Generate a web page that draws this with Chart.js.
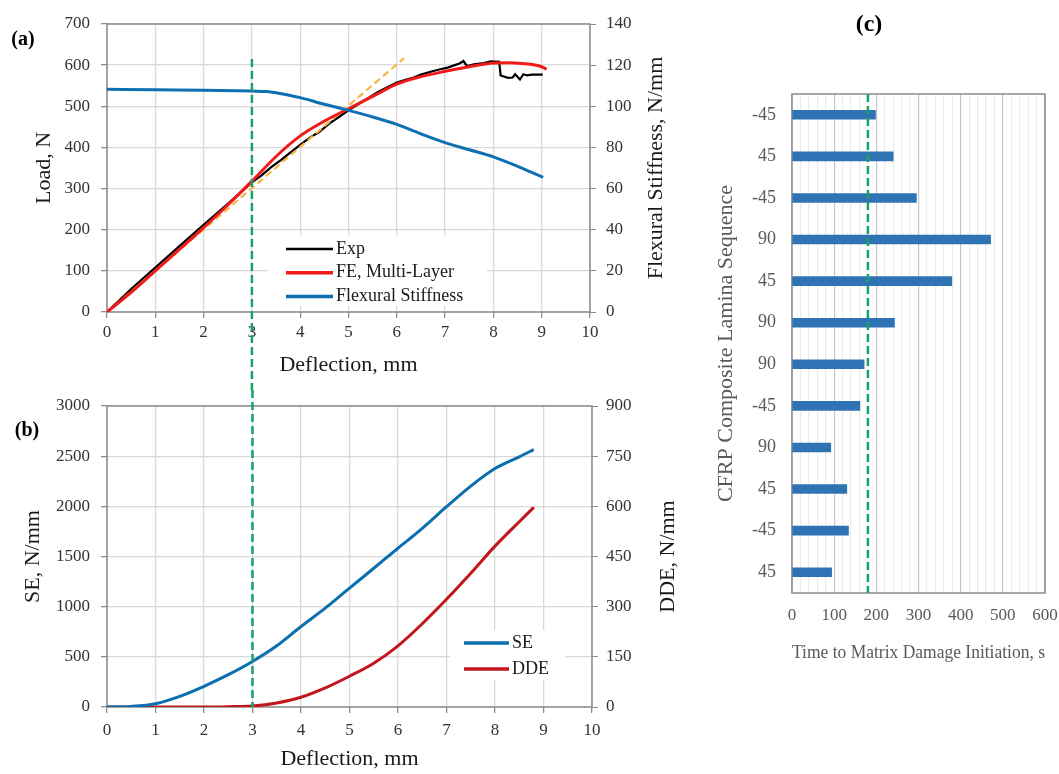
<!DOCTYPE html>
<html>
<head>
<meta charset="utf-8">
<title>Load, energy and damage initiation</title>
<script src="https://cdn.jsdelivr.net/npm/chart.js@4.4.0/dist/chart.umd.min.js"></script>
<style>
  html, body { margin: 0; padding: 0; background: #fff; }
  body { width: 1059px; height: 774px; position: relative; overflow: hidden; }
  canvas { position: absolute; }
  #chartA { left: 0; top: 0; }
  #chartB { left: 0; top: 390px; }
  #chartC { left: 700px; top: 0; }
</style>
</head>
<body>
<canvas id="chartA" width="700" height="390"></canvas>
<canvas id="chartB" width="700" height="384"></canvas>
<canvas id="chartC" width="359" height="774"></canvas>
<script>
// (a) load / flexural stiffness vs deflection
const expDefl = [0, 0.25, 0.5, 0.75, 1, 1.5, 2, 2.5, 3, 3.2, 3.4, 3.6, 3.8, 4, 4.2, 4.4, 4.6, 4.8, 5, 5.3, 5.6, 6, 6.2, 6.35, 6.5, 6.7, 6.9, 7.05, 7.2, 7.3, 7.38, 7.45, 7.6, 7.8, 7.95, 8.12, 8.15, 8.3, 8.4, 8.45, 8.55, 8.62, 8.7, 8.8, 9.02];
const expLoad = [0, 28, 56, 82, 108, 160, 212, 263, 315, 332, 352, 369, 388, 406, 424, 438, 458, 474, 490, 512, 534, 558, 565, 570, 577, 584, 590, 594, 600, 604, 610, 598, 602, 605, 609, 608, 575, 569, 570, 578, 565, 578, 575, 577, 577];
const feDefl = [0, 0.5, 1, 1.5, 2, 2.5, 3, 3.5, 4, 4.5, 5, 5.5, 6, 6.5, 7, 7.5, 8, 8.3, 8.6, 9, 9.1];
const feLoad = [0, 48, 100, 152, 205, 260, 318, 378, 428, 464, 494, 524, 554, 572, 585, 596, 605, 606, 604, 596, 590];
const stiffDefl = [0, 1, 2, 3, 3.3, 3.5, 3.75, 4, 4.5, 5, 5.5, 6, 6.5, 7, 7.5, 8, 8.5, 9.03];
const stiffValue = [108.3, 108, 107.8, 107.4, 107.2, 106.6, 105.5, 104.2, 101, 98, 94.8, 91.2, 86.6, 82.3, 78.9, 75.4, 70.8, 65.5];
const slopeDefl = [0, 6.15];
const slopeLoad = [0, 617];

// (b) strain energy and damage dissipation energy
const energyDefl = [0, 0.5, 1, 1.5, 2, 2.5, 3, 3.5, 4, 4.5, 5, 5.5, 6, 6.5, 7, 7.5, 8, 8.5, 8.8];
const seValues = [0, 6, 33, 106, 206, 322, 454, 610, 802, 985, 1184, 1383, 1582, 1781, 1996, 2202, 2377, 2493, 2566];
const ddeValues = [0, 0, 0, 0, 0, 1, 3, 12, 29, 57, 92, 131, 183, 249, 322, 400, 481, 554, 597];

// (c) time to matrix damage initiation per lamina
const laminaLabels = ["-45", "45", "-45", "90", "45", "90", "90", "-45", "90", "45", "-45", "45"];
const damageTime = [198, 240, 295, 471, 379, 243, 171, 161, 92, 130, 134, 94];

const markerDefl = 3;
const markerTime = 180;

const serif = "'Liberation Serif', 'Times New Roman', serif";
Chart.defaults.font.family = serif;
Chart.defaults.color = "#333";

const pts = (xs, ys) => xs.map((x, i) => ({ x: x, y: ys[i] }));

// plot box around the chart area
const frame = {
  id: "frame",
  beforeDatasetsDraw(chart, args, opts) {
    const { ctx, chartArea: a } = chart;
    ctx.save();
    ctx.strokeStyle = opts.color || "#8c8c8c";
    ctx.lineWidth = 1.5;
    ctx.strokeRect(a.left, a.top, a.right - a.left, a.bottom - a.top);
    ctx.restore();
  }
};

// legend drawn inside the plot, on a white box
const boxLegend = {
  id: "boxLegend",
  beforeDatasetsDraw(chart, args, opts) {
    const ctx = chart.ctx;
    ctx.save();
    ctx.fillStyle = "#fff";
    ctx.fillRect(opts.box[0], opts.box[1], opts.box[2], opts.box[3]);
    ctx.font = "18px " + serif;
    ctx.textBaseline = "middle";
    opts.items.forEach((idx, row) => {
      const ds = chart.data.datasets[idx];
      const y = opts.y + row * opts.gap;
      ctx.strokeStyle = ds.borderColor;
      ctx.lineWidth = ds.borderWidth + 0.5;
      ctx.beginPath();
      ctx.moveTo(opts.x, y);
      ctx.lineTo(opts.x + opts.len, y);
      ctx.stroke();
      ctx.fillStyle = "#1a1a1a";
      ctx.fillText(ds.label, opts.x + opts.len + 3, y);
    });
    ctx.restore();
  }
};

// green dashed reference line
const marker = {
  id: "marker",
  afterDatasetsDraw(chart, args, opts) {
    const { ctx, chartArea, scales } = chart;
    const x = scales.x.getPixelForValue(opts.value);
    let top = chartArea.top;
    let bottom = chartArea.bottom;
    if (opts.from !== undefined) top = scales.y.getPixelForValue(opts.from);
    if (opts.fromEdge) top = 0;
    if (opts.toEdge) bottom = chart.height;
    ctx.save();
    ctx.strokeStyle = "#16a463";
    ctx.lineWidth = 2.5;
    ctx.setLineDash([8, 4]);
    ctx.beginPath();
    ctx.moveTo(x, top);
    ctx.lineTo(x, bottom);
    ctx.stroke();
    ctx.restore();
  }
};

// right axis title, read bottom to top like the left one
const sideTitle = {
  id: "sideTitle",
  afterDraw(chart, args, opts) {
    const { ctx, chartArea } = chart;
    const title = chart.scales.y1.options.title;
    ctx.save();
    ctx.translate(opts.x, (chartArea.top + chartArea.bottom) / 2);
    ctx.rotate(-Math.PI / 2);
    ctx.font = "22px " + serif;
    ctx.fillStyle = "#1a1a1a";
    ctx.textAlign = "center";
    ctx.textBaseline = "middle";
    ctx.fillText(title.text, 0, 0);
    ctx.restore();
  }
};

// (a) (b) (c) tags
const panelTag = {
  id: "panelTag",
  afterDraw(chart, args, opts) {
    const ctx = chart.ctx;
    ctx.save();
    ctx.font = "bold " + opts.size + "px " + serif;
    ctx.fillStyle = "#000";
    ctx.textAlign = "center";
    ctx.textBaseline = "middle";
    ctx.fillText(opts.text, opts.x, opts.y);
    ctx.restore();
  }
};

function fixSize(w, h) {
  return (s) => {
    if (w !== null) s.width = w;
    if (h !== null) s.height = h;
    s.paddingLeft = 0;
    s.paddingRight = 0;
    s.paddingTop = 0;
    s.paddingBottom = 0;
  };
}

const tickFont = { size: 17 };
const titleFont = { size: 22 };
const gridStyle = { color: "#d9d9d9", lineWidth: 1.3, tickLength: 6, tickColor: "#8c8c8c" };
const plain = (v) => String(v);

function lineAxes(cfg) {
  return {
    x: {
      type: "linear", min: 0, max: 10,
      ticks: { stepSize: 1, padding: cfg.xPad, font: tickFont, color: "#333", callback: plain },
      grid: gridStyle,
      border: { display: false },
      title: { display: true, text: "Deflection, mm", font: titleFont, color: "#1a1a1a", padding: { top: 0, bottom: cfg.xTitle } },
      afterFit: fixSize(null, cfg.xHeight)
    },
    y: {
      position: "left", min: 0, max: cfg.yMax,
      ticks: { stepSize: cfg.yStep, padding: 11, font: tickFont, color: "#333", callback: plain },
      grid: gridStyle,
      border: { display: false },
      title: { display: true, text: cfg.yTitle, font: titleFont, color: "#1a1a1a", padding: { top: cfg.yTitlePad, bottom: 0 } },
      afterFit: fixSize(107, null)
    },
    y1: {
      position: "right", min: 0, max: cfg.y1Max,
      ticks: { stepSize: cfg.y1Step, padding: cfg.y1Pad, font: tickFont, color: "#333", callback: plain },
      grid: { drawOnChartArea: false, tickLength: 6, tickColor: "#8c8c8c" },
      border: { display: false },
      title: { display: false, text: cfg.y1Title },
      afterFit: fixSize(cfg.y1Width, null)
    }
  };
}

new Chart(document.getElementById("chartA"), {
  type: "line",
  data: {
    datasets: [
      { label: "Exp", data: pts(expDefl, expLoad), borderColor: "#000000", borderWidth: 2.2, pointRadius: 0, tension: 0, yAxisID: "y", order: 3 },
      { label: "FE, Multi-Layer", data: pts(feDefl, feLoad), borderColor: "#f01a1a", borderWidth: 3, pointRadius: 0, cubicInterpolationMode: "monotone", yAxisID: "y", order: 1 },
      { label: "Flexural Stiffness", data: pts(stiffDefl, stiffValue), borderColor: "#0e70b3", borderWidth: 3, pointRadius: 0, cubicInterpolationMode: "monotone", yAxisID: "y1", order: 0 },
      { label: "", data: pts(slopeDefl, slopeLoad), borderColor: "#f5b540", borderWidth: 2.2, borderDash: [7, 4], pointRadius: 0, yAxisID: "y", order: 2 }
    ]
  },
  options: {
    responsive: false,
    animation: false,
    devicePixelRatio: 1,
    layout: { padding: { top: 24, right: 0, bottom: 0, left: 0 } },
    scales: lineAxes({
      xPad: 4, xTitle: 12, xHeight: 78,
      yMax: 700, yStep: 100, yTitle: "Load, N", yTitlePad: 31,
      y1Max: 140, y1Step: 20, y1Pad: 10, y1Width: 110, y1Title: "Flexural Stiffness, N/mm"
    }),
    plugins: {
      legend: { display: false },
      tooltip: { enabled: false },
      boxLegend: { box: [268, 236, 219, 70], x: 286, y: 249, gap: 23.7, len: 47, items: [0, 1, 2] },
      marker: { value: markerDefl, from: 615, toEdge: true },
      sideTitle: { x: 656 },
      panelTag: { text: "(a)", x: 23, y: 40, size: 20 }
    }
  },
  plugins: [frame, boxLegend, marker, sideTitle, panelTag]
});

new Chart(document.getElementById("chartB"), {
  type: "line",
  data: {
    datasets: [
      { label: "SE", data: pts(energyDefl, seValues), borderColor: "#0a6fae", borderWidth: 3, pointRadius: 0, cubicInterpolationMode: "monotone", yAxisID: "y" },
      { label: "DDE", data: pts(energyDefl, ddeValues), borderColor: "#c0161c", borderWidth: 3, pointRadius: 0, cubicInterpolationMode: "monotone", yAxisID: "y1" }
    ]
  },
  options: {
    responsive: false,
    animation: false,
    devicePixelRatio: 1,
    layout: { padding: { top: 16, right: 0, bottom: 0, left: 0 } },
    scales: lineAxes({
      xPad: 7, xTitle: 2, xHeight: 67,
      yMax: 3000, yStep: 500, yTitle: "SE, N/mm", yTitlePad: 20,
      y1Max: 900, y1Step: 150, y1Pad: 8, y1Width: 108, y1Title: "DDE, N/mm"
    }),
    plugins: {
      legend: { display: false },
      tooltip: { enabled: false },
      boxLegend: { box: [450, 240, 115, 50], x: 464, y: 253, gap: 26, len: 45, items: [0, 1] },
      marker: { value: markerDefl, fromEdge: true },
      sideTitle: { x: 668 },
      panelTag: { text: "(b)", x: 27, y: 41, size: 20 }
    }
  },
  plugins: [frame, boxLegend, marker, sideTitle, panelTag]
});

new Chart(document.getElementById("chartC"), {
  type: "bar",
  data: {
    labels: laminaLabels,
    datasets: [{ data: damageTime, backgroundColor: "#2e74b5", barThickness: 9 }]
  },
  options: {
    indexAxis: "y",
    responsive: false,
    animation: false,
    devicePixelRatio: 1,
    layout: { padding: { top: 94, right: 14, bottom: 0, left: 0 } },
    scales: {
      x: {
        min: 0, max: 600,
        ticks: {
          stepSize: 20, maxTicksLimit: 40, autoSkip: false, maxRotation: 0, padding: 12,
          font: { size: 17 }, color: "#595959",
          callback: (v) => (v % 100 === 0 ? String(v) : "")
        },
        grid: {
          color: (c) => (c.tick && c.tick.value % 100 === 0 ? "#c6c6c6" : "#ebebeb"),
          lineWidth: 1.2,
          drawTicks: false
        },
        border: { display: false },
        title: { display: true, text: "Time to Matrix Damage Initiation, s", font: { size: 18 }, color: "#595959", padding: { top: 0, bottom: 110 } },
        afterFit: fixSize(null, 181)
      },
      y: {
        ticks: { padding: 16, font: { size: 18 }, color: "#595959" },
        grid: { display: false, drawTicks: false },
        border: { display: false },
        title: { display: true, text: "CFRP Composite Lamina Sequence", font: { size: 22 }, color: "#595959", padding: { top: 13, bottom: 0 } },
        afterFit: fixSize(92, null)
      }
    },
    plugins: {
      legend: { display: false },
      tooltip: { enabled: false },
      frame: { color: "#8a8a8a" },
      marker: { value: markerTime },
      panelTag: { text: "(c)", x: 169, y: 25, size: 24 }
    }
  },
  plugins: [frame, marker, panelTag]
});
</script>
</body>
</html>
